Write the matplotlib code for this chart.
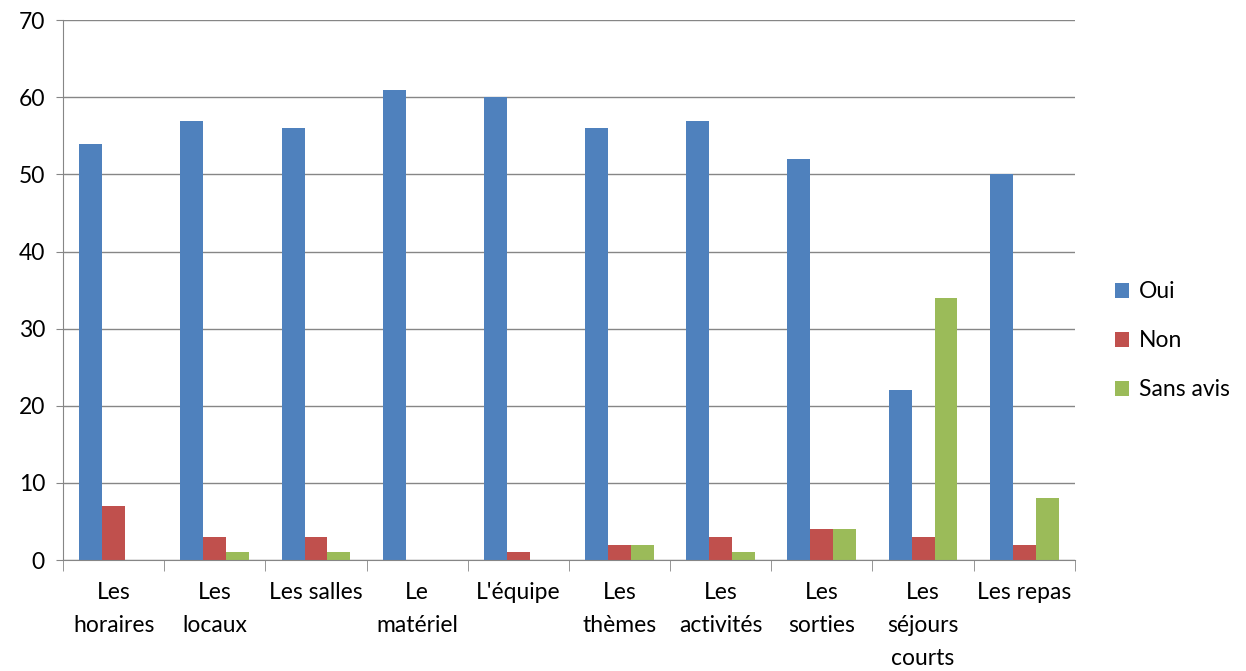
import matplotlib.pyplot as plt
import numpy as np

categories = ['Les\nhoraires', 'Les\nlocaux', 'Les salles', 'Le\nmatériel', "L'équipe",
              'Les\nthèmes', 'Les\nactivités', 'Les\nsorties', 'Les\nséjours\ncourts', 'Les repas']
oui = [54, 57, 56, 61, 60, 56, 57, 52, 22, 50]
non = [7, 3, 3, 0, 1, 2, 3, 4, 3, 2]
sans_avis = [0, 1, 1, 0, 0, 2, 1, 4, 34, 8]

plt.rcParams['font.family'] = ['Lato', 'DejaVu Sans']
fs = 16.5

fig = plt.figure(figsize=(12.46, 6.71), dpi=100)
ax = fig.add_axes([0.0506, 0.1654, 0.812, 0.8044])

x = np.arange(len(categories))
w = 0.227
ax.bar(x - w, oui, w, color='#4F81BD', label='Oui')
ax.bar(x, non, w, color='#C0504D', label='Non')
ax.bar(x + w, sans_avis, w, color='#9BBB59', label='Sans avis')

ax.set_xlim(-0.5, len(categories) - 0.5)
ax.set_ylim(0, 70)
ax.set_yticks(range(0, 71, 10))
ax.yaxis.grid(True, color='#868686', linewidth=1)
ax.set_axisbelow(True)

ax.set_xticks(x)
ax.set_xticklabels(categories, fontsize=fs, linespacing=1.7)
ax.set_xticks(np.arange(-0.5, len(categories), 1), minor=True)
ax.tick_params(axis='x', which='major', length=0, pad=16)
ax.tick_params(axis='x', which='minor', length=8, color='#868686')
ax.tick_params(axis='y', length=5, color='#868686', labelsize=fs, pad=8)

for s in ['top', 'right']:
    ax.spines[s].set_visible(False)
for s in ['left', 'bottom']:
    ax.spines[s].set_color('#868686')

ax.legend(loc='center left', bbox_to_anchor=(0.895, 0.492), bbox_transform=fig.transFigure,
          frameon=False, borderpad=0, borderaxespad=0,
          fontsize=fs, handlelength=0.6, handleheight=0.6, labelspacing=1.22,
          handletextpad=0.45)

fig.savefig('out.png', dpi=100)
